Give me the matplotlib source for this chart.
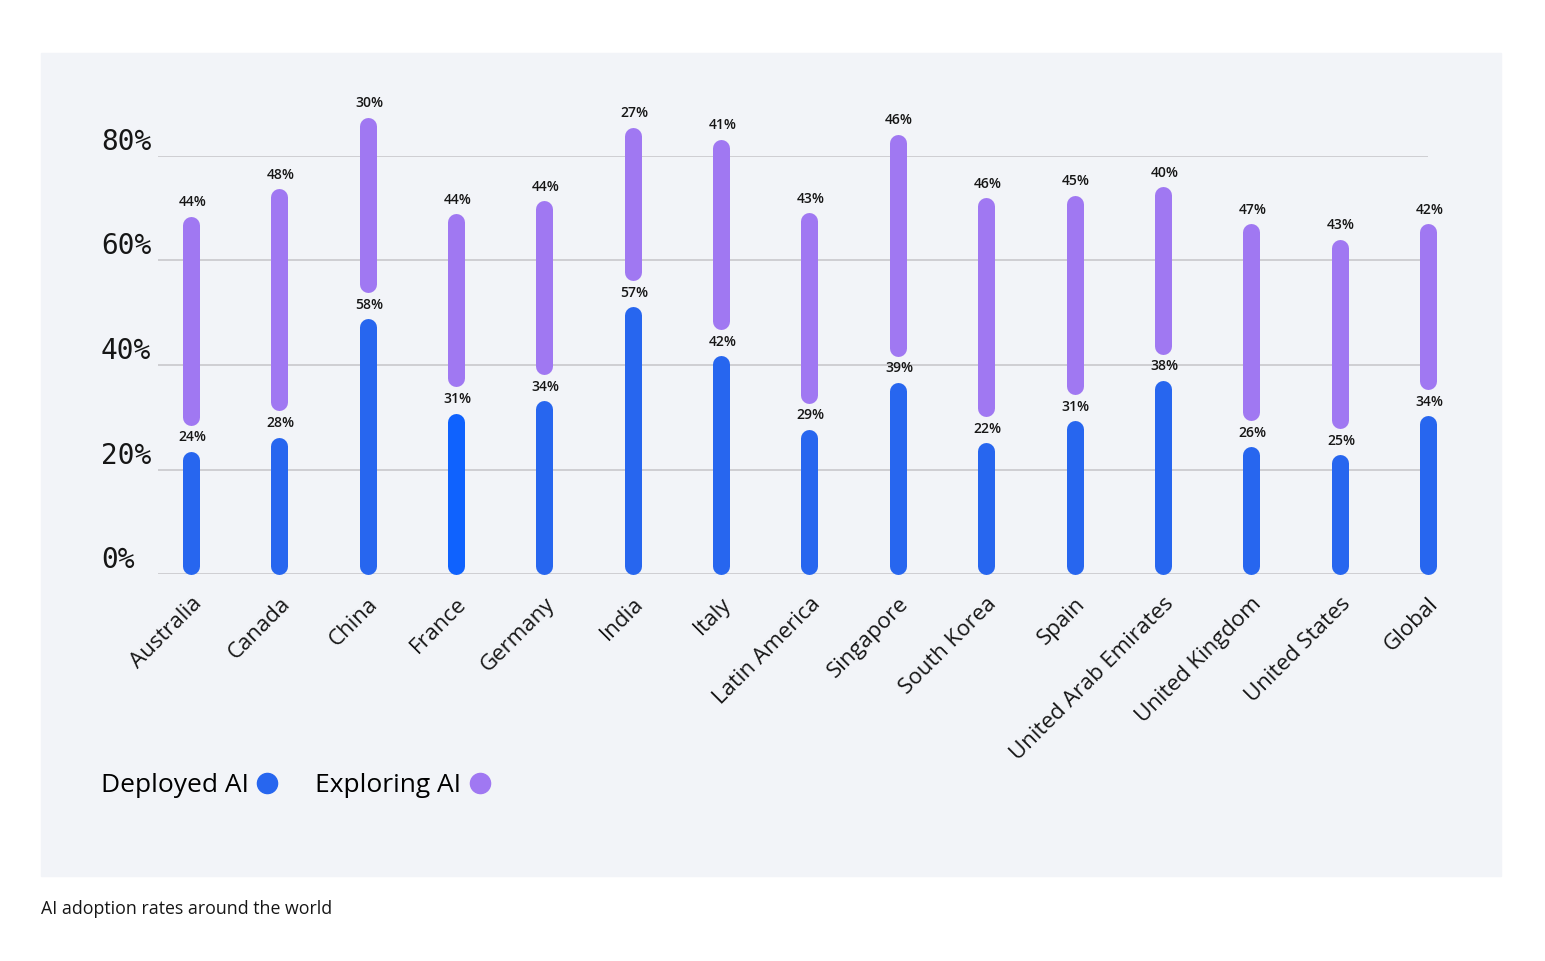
import numpy as np
import matplotlib
matplotlib.use("Agg")
import matplotlib.pyplot as plt
from matplotlib.patches import Rectangle
from matplotlib.lines import Line2D

countries = ["Australia", "Canada", "China", "France", "Germany", "India", "Italy",
             "Latin America", "Singapore", "South Korea", "Spain",
             "United Arab Emirates", "United Kingdom", "United States", "Global"]
deployed_pct = [24, 28, 58, 31, 34, 57, 42, 29, 39, 22, 31, 38, 26, 25, 34]
exploring_pct = [44, 48, 30, 44, 44, 27, 41, 43, 46, 46, 45, 40, 47, 43, 42]

# bar ends as drawn in the source graphic, read against its 0-80% gridlines
# (the source does not draw the bars to the scale of their labels)
deployed_top = [23.5, 26.2, 48.9, 30.8, 33.2, 51.2, 41.8, 27.7, 36.7, 25.1,
                29.3, 37.1, 24.4, 22.8, 30.3]
exploring_top = [68.5, 73.8, 87.4, 69.0, 71.4, 85.5, 83.2, 69.1, 84.2, 72.0,
                 72.5, 74.1, 67.1, 64.1, 67.0]
yticks = [0, 20, 40, 60, 80]

BLUE = "#2766ef"
BLUE_HI = "#0f62fe"   # France is drawn a touch brighter in the source
PURPLE = "#a078f2"
PANEL = "#f2f4f8"
INK = "#161616"
GAP = 5.0

W, H = 1545, 961
fig = plt.figure(figsize=(W / 100, H / 100), dpi=100)
fig.patches.append(Rectangle((41 / W, 1 - 876 / H), 1460 / W, 823 / H,
                             transform=fig.transFigure, color=PANEL, zorder=-1))

ax_l, ax_r, ax_b, ax_t = 158, 1428, 574, 156
ax = fig.add_axes([ax_l / W, 1 - ax_b / H, (ax_r - ax_l) / W, (ax_b - ax_t) / H])
ax.set_facecolor("none")
ax.set_zorder(1)

x = np.arange(len(countries))
first_px, step = 191, 88.6
ax.set_xlim(-(first_px - ax_l) / step, (ax_r - first_px) / step)
ax.set_ylim(0, 80)

bar_px = 17
lw = bar_px * 72 / 100
cap = (bar_px / 2) * 80 / (ax_b - ax_t)   # round cap length in data units

for i in x:
    col = BLUE_HI if countries[i] == "France" else BLUE
    d = deployed_top[i]
    e = exploring_top[i]
    ax.plot([i, i], [cap, d - cap], color=col, lw=lw,
            solid_capstyle="round", clip_on=False, zorder=3)
    ax.plot([i, i], [d + GAP + cap, e - cap], color=PURPLE, lw=lw,
            solid_capstyle="round", clip_on=False, zorder=3)
    ax.annotate(f"{deployed_pct[i]}%", (i, d), xytext=(1, 10),
                textcoords="offset points", ha="center", va="center",
                fontsize=10, fontweight="semibold", color=INK,
                family="Open Sans", annotation_clip=False)
    ax.annotate(f"{exploring_pct[i]}%", (i, e), xytext=(1, 10),
                textcoords="offset points", ha="center", va="center",
                fontsize=10, fontweight="semibold", color=INK,
                family="Open Sans", annotation_clip=False)

for s in ax.spines.values():
    s.set_visible(False)
ax.set_yticks(yticks)
ax.set_yticklabels([f"{t}%" for t in yticks], ha="left", va="bottom",
                   family="DejaVu Sans Mono", fontsize=20, color=INK)
ax.tick_params(axis="y", length=0, pad=(ax_l - 101) * 72 / 100)
ax.yaxis.grid(True, color="#c8c8cc", lw=1.2, zorder=0)
ax.set_axisbelow(True)

ax.set_xticks(x)
ax.set_xticklabels(countries, rotation=45, ha="right", rotation_mode="anchor",
                   family="Open Sans", fontsize=16, color=INK)
ax.tick_params(axis="x", length=0, pad=14)

handles = [Line2D([], [], ls="none", marker="o", ms=14.5, color=BLUE),
           Line2D([], [], ls="none", marker="o", ms=14.5, color=PURPLE)]
fig.legend(handles, ["Deployed AI", "Exploring AI"], loc="center left",
           bbox_to_anchor=(101 / W, 1 - 786 / H), ncol=2, markerfirst=False,
           frameon=False, borderpad=0, borderaxespad=0, handlelength=1.0,
           handletextpad=0.2, columnspacing=1.3,
           prop={"family": "Open Sans", "size": 19})

fig.text(41 / W, 1 - 909 / H, "AI adoption rates around the world",
         ha="left", va="center", family="Open Sans", fontsize=12.8, color=INK)

fig.savefig("out.png", dpi=100, facecolor="white")
